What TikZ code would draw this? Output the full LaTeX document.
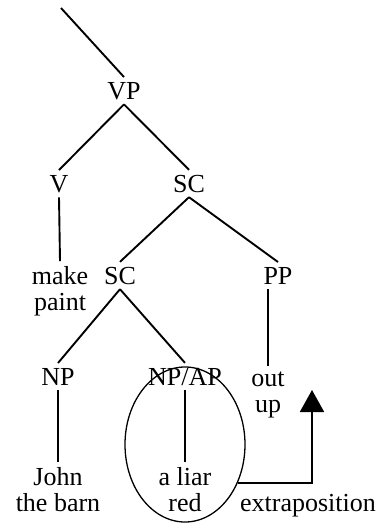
\documentclass[tikz,border=0pt]{standalone}
\usepackage{fontspec}
\setmainfont{Liberation Serif}
\usetikzlibrary{arrows.meta, shapes.geometric}

\begin{document}
\begin{tikzpicture}[x=1pt, y=-1pt, >={Triangle[width=24pt, length=22pt]}, line width=1.9pt,
  every node/.style={font=\fontsize{26}{26}\selectfont, inner sep=4pt, align=center, anchor=base}]
  \useasboundingbox (0,0) rectangle (378,523);
  \coordinate (top) at (61,8);
  \node (vp) at (124,99) {VP};
  \node (v) at (59,192) {V};
  \node (sc) at (189,192) {SC};
  \node (verb) at (60,310) {make\\paint};
  \node (sc2) at (120,284) {SC};
  \node (pp) at (278,284) {PP};
  \node (np) at (58,385) {NP};
  \node (npap) at (185,385) {NP/AP};
  \node (prt) at (268,412) {out\\up};
  \node (subj) at (58,511) {John\\the barn};
  \node (pred) at (185,511) {a liar\\red};
  \node (extra) at (308,511) {extraposition};
  % circled small clause predicate
  \node[draw, ellipse, line width=1.3pt, anchor=center, minimum width=120pt, minimum height=155pt, inner sep=0pt] (moved) at (185,444.5) {};
  \coordinate (tip) at (312,390);
  \draw (top) -- (vp.north);
  \draw (vp.south) -- (v.north);
  \draw (vp.south) -- (sc.north);
  \draw (v.south) -- (verb.north);
  \draw (sc.south) -- (sc2.north);
  \draw (sc.south) -- (pp.north);
  \draw (sc2.south) -- (np.north);
  \draw (sc2.south) -- (npap.north);
  \draw (prt.north |- pp.south) -- (prt.north);
  \draw (np.south) -- (subj.north);
  \draw (npap.south) -- (pred.north);
  \draw[->] (moved.-36) -| (tip);
\end{tikzpicture}
\end{document}
